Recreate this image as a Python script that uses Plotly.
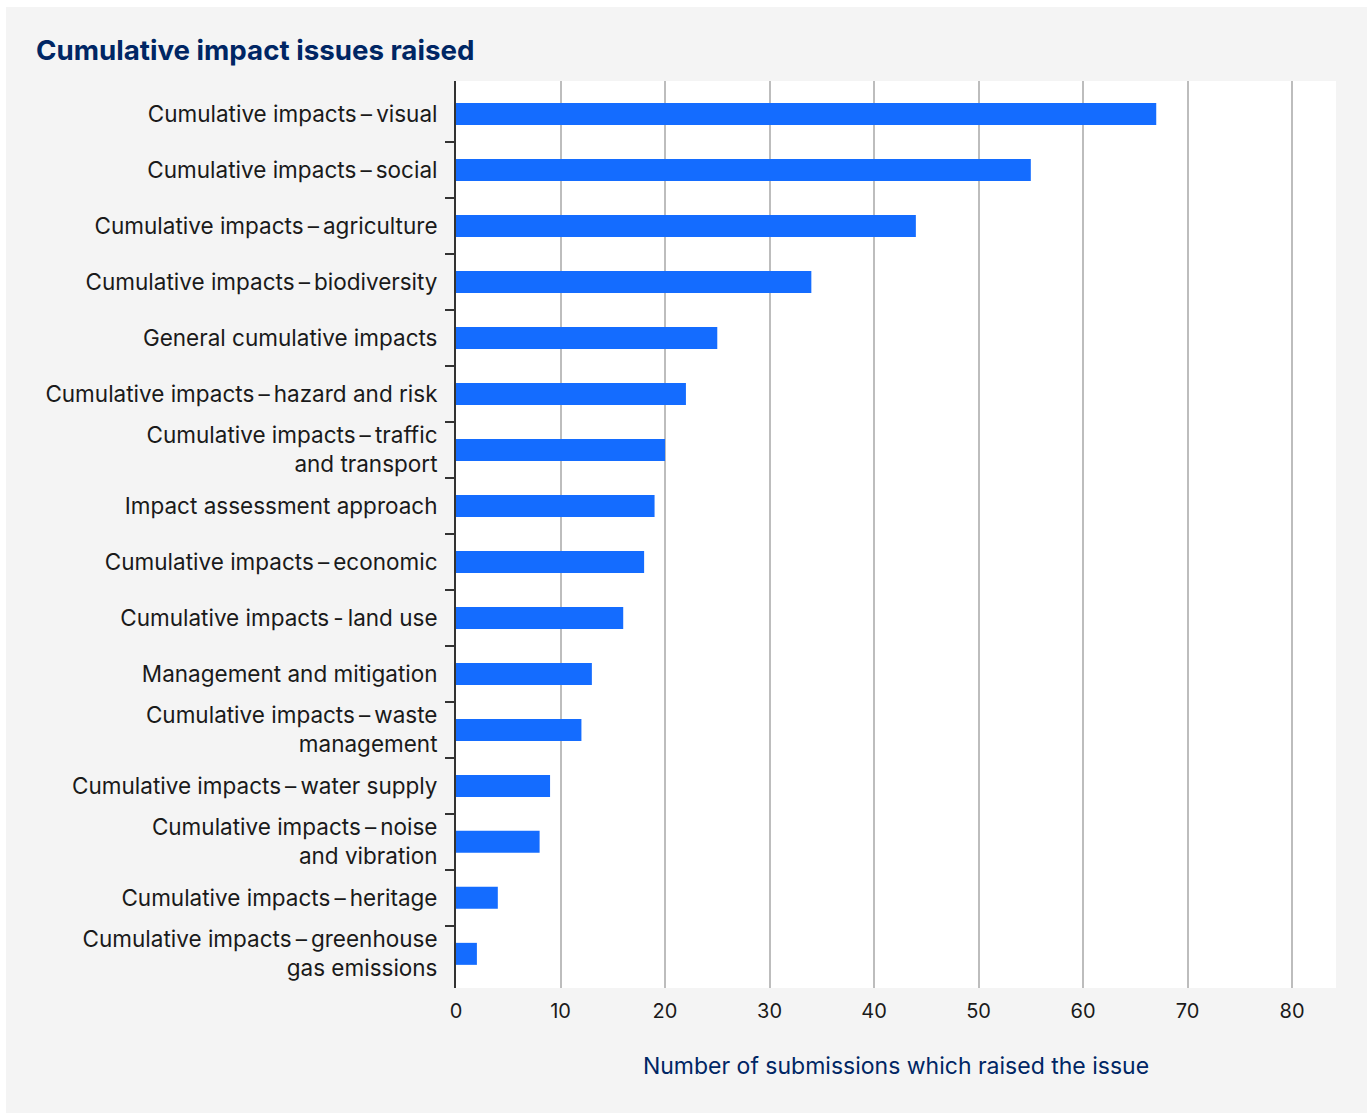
import plotly.graph_objects as go

categories = [
    "Cumulative impacts\u2009–\u2009visual",
    "Cumulative impacts\u2009–\u2009social",
    "Cumulative impacts\u2009–\u2009agriculture",
    "Cumulative impacts\u2009–\u2009biodiversity",
    "General cumulative impacts",
    "Cumulative impacts\u2009–\u2009hazard and risk",
    "Cumulative impacts\u2009–\u2009traffic<br>and transport",
    "Impact assessment approach",
    "Cumulative impacts\u2009–\u2009economic",
    "Cumulative impacts\u2009-\u2009land use",
    "Management and mitigation",
    "Cumulative impacts\u2009–\u2009waste<br>management",
    "Cumulative impacts\u2009–\u2009water supply",
    "Cumulative impacts\u2009–\u2009noise<br>and vibration",
    "Cumulative impacts\u2009–\u2009heritage",
    "Cumulative impacts\u2009–\u2009greenhouse<br>gas emissions",
]
values = [67, 55, 44, 34, 25, 22, 20, 19, 18, 16, 13, 12, 9, 8, 4, 2]
x_ticks = [0, 10, 20, 30, 40, 50, 60, 70, 80]

FONT = "Inter, Roboto, Noto Sans, sans-serif"
NAVY = "#002664"

n = len(categories)
y_range = [n - 1 + 0.61, -0.59]
boundaries = [i + 0.5 for i in range(n - 1)]

fig = go.Figure()
fig.add_trace(
    go.Bar(
        x=values,
        y=categories,
        orientation="h",
        marker=dict(color="#146cff", line=dict(width=0)),
        hoverinfo="x+y",
    )
)
# invisible helper trace carrying the boundary tick axis
fig.add_trace(
    go.Scatter(
        x=[0], y=[0], yaxis="y2", mode="markers",
        marker=dict(opacity=0), hoverinfo="skip", showlegend=False,
    )
)

W, H = 1372, 1113
ml, mr, mt, mb = 456, 36, 81, 125
pw = W - ml - mr
ph = H - mt - mb

def px_x(p):
    return (p - ml) / pw

def px_y(p):
    return (H - mb - p) / ph

fig.update_layout(
    width=W,
    height=H,
    margin=dict(l=ml, r=mr, t=mt, b=mb, pad=0),
    paper_bgcolor="white",
    plot_bgcolor="white",
    bargap=0.607,
    showlegend=False,
    font=dict(family=FONT, color="#1a1a1a", size=22.5),
    title=dict(
        text="<b>Cumulative impact issues raised</b>",
        font=dict(family=FONT, size=27.7, color=NAVY),
        x=36 / W,
        xanchor="left",
        y=1 - 50 / H,
        yanchor="middle",
    ),
    shapes=[
        dict(type="rect", xref="paper", yref="paper",
             x0=px_x(6), x1=px_x(1367), y0=px_y(1113), y1=px_y(7),
             fillcolor="#f4f4f4", line=dict(width=0), layer="below"),
        dict(type="rect", xref="paper", yref="paper",
             x0=0, x1=1, y0=0, y1=1,
             fillcolor="white", line=dict(width=0), layer="below"),
    ],
    yaxis2=dict(
        overlaying="y",
        side="left",
        range=y_range,
        tickvals=boundaries,
        showticklabels=False,
        ticks="outside",
        ticklen=10,
        tickwidth=1.5,
        tickcolor="#333333",
        showgrid=False,
        zeroline=False,
        showline=False,
    ),
)

fig.update_xaxes(
    range=[0, 84.2],
    tickvals=x_ticks,
    ticktext=[str(v) for v in x_ticks],
    showgrid=True,
    gridcolor="#bdbdbd",
    gridwidth=1.5,
    zeroline=False,
    showline=False,
    ticks="",
    ticklabelstandoff=9,
    tickfont=dict(size=20, color="#1a1a1a"),
    title=dict(
        text="Number of submissions which raised the issue",
        font=dict(size=23, color=NAVY),
        standoff=35,
    ),
)

fig.layout.yaxis.update(
    range=y_range,
    showline=True,
    linecolor="#333333",
    linewidth=2,
    ticks="",
    showgrid=False,
    tickfont=dict(size=22.5, color="#1a1a1a"),
    ticklabelstandoff=12,
)

fig.write_html("out.html")
